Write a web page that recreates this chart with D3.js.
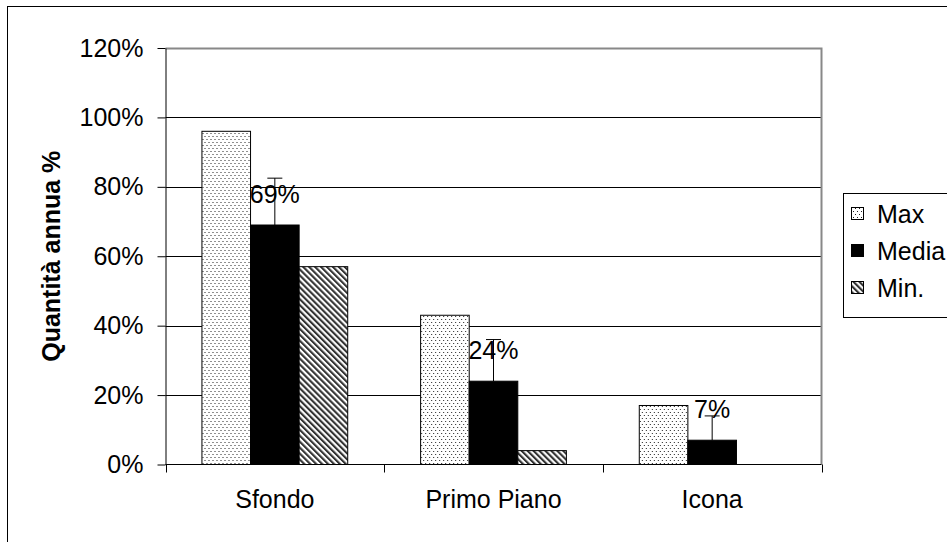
<!DOCTYPE html>
<html>
<head>
<meta charset="utf-8">
<script src="https://cdn.jsdelivr.net/npm/d3@7"></script>
<style>
  html, body { margin: 0; padding: 0; background: #fff; }
  svg { display: block; font-family: "Liberation Sans", Arial, sans-serif; }
</style>
</head>
<body>
<svg id="chart" width="947" height="542"></svg>
<script>
// Categories, series and values (percent)
const categories = ["Sfondo", "Primo Piano", "Icona"];
const seriesNames = ["Max", "Media", "Min."];
const maxValues = [96, 43, 17];
const mediaValues = [69, 24, 7];
const minValues = [57, 4, 0];
const mediaErrorPlus = [13.5, 12, 7];
const yTicks = [0, 20, 40, 60, 80, 100, 120];
const yTitle = "Quantità annua %";

const svg = d3.select("#chart");
const plot = { left: 165.5, right: 821.5, top: 48, bottom: 464.5 };
const fontSize = 25;

// Fill patterns
const defs = svg.append("defs");
const dots = defs.append("pattern").attr("id", "pat-dots")
  .attr("patternUnits", "userSpaceOnUse").attr("width", 4).attr("height", 6);
dots.append("rect").attr("width", 4).attr("height", 6).attr("fill", "#fff");
dots.append("rect").attr("x", 1).attr("y", 1).attr("width", 1).attr("height", 1).attr("fill", "#222");
dots.append("rect").attr("x", 3).attr("y", 4).attr("width", 1).attr("height", 1).attr("fill", "#222");

const diag = defs.append("pattern").attr("id", "pat-diag")
  .attr("patternUnits", "userSpaceOnUse").attr("width", 4.2).attr("height", 4.2)
  .attr("patternTransform", "rotate(-45)");
diag.append("rect").attr("width", 4.2).attr("height", 4.2).attr("fill", "#fff");
diag.append("rect").attr("width", 2.1).attr("height", 4.2).attr("fill", "#333");

const fills = { "Max": "url(#pat-dots)", "Media": "#000", "Min.": "url(#pat-diag)" };

// Outer chart frame
svg.append("rect").attr("x", 7.5).attr("y", 6.5).attr("width", 1200).attr("height", 1200)
  .attr("fill", "none").attr("stroke", "#000").attr("stroke-width", 1);

// Scales
const x0 = d3.scaleBand().domain(categories).range([plot.left, plot.right]).padding(0);
const x1 = d3.scaleBand().domain(seriesNames).range([0, x0.bandwidth()])
  .paddingInner(0).paddingOuter(0.75);
const y = d3.scaleLinear().domain([0, 120]).range([plot.bottom, plot.top]);

// Gridlines
svg.append("g").selectAll("line").data(yTicks.filter(t => t > 0 && t < 120)).join("line")
  .attr("x1", plot.left).attr("x2", plot.right)
  .attr("y1", d => Math.round(y(d)) + 0.5).attr("y2", d => Math.round(y(d)) + 0.5)
  .attr("stroke", "#000").attr("stroke-width", 1);

// Plot area border (gray top/right)
svg.append("path")
  .attr("d", `M${plot.left},${plot.top + 0.5} H${plot.right} V${plot.bottom}`)
  .attr("fill", "none").attr("stroke", "#888").attr("stroke-width", 2);

// Bars
const rows = categories.map((c, i) => ({
  category: c,
  values: [
    { key: "Max", value: maxValues[i] },
    { key: "Media", value: mediaValues[i] },
    { key: "Min.", value: minValues[i] }
  ]
}));

const groups = svg.append("g").selectAll("g").data(rows).join("g")
  .attr("transform", d => `translate(${x0(d.category)},0)`);

groups.selectAll("rect").data(d => d.values.filter(v => v.value > 0)).join("rect")
  .attr("x", d => x1(d.key))
  .attr("y", d => y(d.value))
  .attr("width", x1.bandwidth())
  .attr("height", d => y(0) - y(d.value))
  .attr("fill", d => fills[d.key])
  .attr("stroke", "#000").attr("stroke-width", 1);

// Error bars on Media (plus direction)
const capHalf = 7.5;
groups.each(function(d, i) {
  const g = d3.select(this);
  const cx = x1("Media") + x1.bandwidth() / 2;
  const top = y(mediaValues[i] + mediaErrorPlus[i]);
  g.append("line").attr("x1", cx).attr("x2", cx)
    .attr("y1", y(mediaValues[i])).attr("y2", top)
    .attr("stroke", "#000").attr("stroke-width", 1);
  g.append("line").attr("x1", cx - capHalf).attr("x2", cx + capHalf)
    .attr("y1", top).attr("y2", top)
    .attr("stroke", "#000").attr("stroke-width", 1);
  // Value label for Media
  g.append("text").attr("x", cx).attr("y", y(mediaValues[i]) - 22)
    .attr("text-anchor", "middle").attr("font-size", fontSize).attr("fill", "#000")
    .text(mediaValues[i] + "%");
});

// Y axis
const yAxis = d3.axisLeft(y).tickValues(yTicks).tickFormat(d => d + "%")
  .tickSizeInner(8).tickSizeOuter(0).tickPadding(14);
const gy = svg.append("g").attr("transform", `translate(${plot.left},0)`).call(yAxis);
gy.select(".domain").attr("stroke", "#000");
gy.selectAll(".tick line").attr("stroke", "#000");
gy.selectAll(".tick text").attr("font-size", fontSize).attr("font-family", "Liberation Sans, Arial, sans-serif").attr("fill", "#000");

// X axis
const gx = svg.append("g").attr("transform", `translate(0,${plot.bottom})`);
gx.append("line").attr("x1", plot.left).attr("x2", plot.right).attr("y1", 0).attr("y2", 0)
  .attr("stroke", "#000");
const boundaries = categories.map(c => x0(c)).concat([plot.right]);
gx.selectAll("line.tk").data(boundaries).join("line").attr("class", "tk")
  .attr("x1", d => Math.round(d) + 0.5).attr("x2", d => Math.round(d) + 0.5)
  .attr("y1", 0).attr("y2", 8).attr("stroke", "#000");
gx.selectAll("text").data(categories).join("text")
  .attr("x", d => x0(d) + x0.bandwidth() / 2).attr("y", 43)
  .attr("text-anchor", "middle").attr("font-size", fontSize).attr("fill", "#000")
  .text(d => d);

// Y axis title
svg.append("text")
  .attr("transform", `translate(60,${(plot.top + plot.bottom) / 2}) rotate(-90)`)
  .attr("text-anchor", "middle").attr("font-size", 25).attr("font-weight", "bold")
  .attr("fill", "#000").text(yTitle);

// Legend
const legend = svg.append("g");
legend.append("rect").attr("x", 843.5).attr("y", 193.5).attr("width", 200).attr("height", 124)
  .attr("fill", "#fff").attr("stroke", "#000").attr("stroke-width", 1);
const legendY = [214, 251, 288];
seriesNames.forEach((s, i) => {
  legend.append("rect").attr("x", 851.5).attr("y", legendY[i] - 6.5)
    .attr("width", 12).attr("height", 12)
    .attr("fill", fills[s]).attr("stroke", "#000").attr("stroke-width", 1);
  legend.append("text").attr("x", 877).attr("y", legendY[i]).attr("dy", "0.35em")
    .attr("font-size", fontSize).attr("fill", "#000").text(s);
});
</script>
</body>
</html>
